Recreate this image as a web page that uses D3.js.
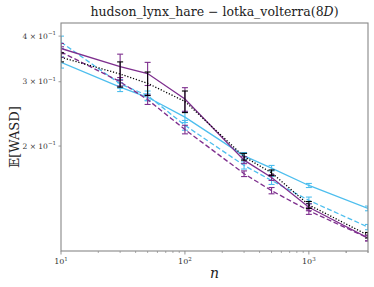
<!DOCTYPE html>
<html><head><meta charset="utf-8">
<script src="https://cdn.jsdelivr.net/npm/d3@7"></script>
<style>body{margin:0;background:#fff}svg{display:block}text{font-family:"DejaVu Serif","Liberation Serif",serif}</style>
</head><body><svg id="c" width="374" height="287"></svg>
<script>
const nValues = [10, 30, 50, 100, 300, 500, 1000, 3000];
const seriesNames = ["purple_solid", "purple_dashed", "blue_solid", "blue_dashed", "black_dotted"];
const purpleSolid = [0.370, 0.330, 0.316, 0.269, 0.183, 0.164, 0.136, 0.112];
const purpleSolidErr = [0.012, 0.027, 0.023, 0.020, 0.004, 0.003, 0.003, 0.002];
const purpleDashed = [0.362, 0.300, 0.268, 0.222, 0.168, 0.151, 0.133, 0.112];
const purpleDashedErr = [0.012, 0.008, 0.008, 0.006, 0.003, 0.003, 0.003, 0.002];
const blueSolid = [0.339, 0.290, 0.272, 0.240, 0.188, 0.174, 0.156, 0.135];
const blueSolidErr = [0.012, 0.008, 0.006, 0.008, 0.004, 0.003, 0.002, 0.002];
const blueDashed = [0.385, 0.296, 0.275, 0.228, 0.177, 0.161, 0.142, 0.120];
const blueDashedErr = [0.015, 0.008, 0.008, 0.007, 0.004, 0.004, 0.003, 0.002];
const blackDotted = [0.350, 0.315, 0.297, 0.265, 0.187, 0.169, 0.138, 0.114];
const blackDottedErr = [0.010, 0.025, 0.022, 0.018, 0.004, 0.003, 0.003, 0.002];
const yTickValues = [0.2, 0.3, 0.4];
const yTickMantissa = ["2", "3", "4"];
const xTickValues = [10, 100, 1000];
const xTickExp = ["1", "2", "3"];

const series = [
  {v: blueSolid, e: blueSolidErr, color: "#4DBEEE", dash: null},
  {v: blueDashed, e: blueDashedErr, color: "#4DBEEE", dash: "5,2.5"},
  {v: purpleDashed, e: purpleDashedErr, color: "#7E2F8E", dash: "5,2.5"},
  {v: purpleSolid, e: purpleSolidErr, color: "#7E2F8E", dash: null},
  {v: blackDotted, e: blackDottedErr, color: "#000000", dash: "1.2,1.8"}
];

const L = 61, R = 368, T = 23, B = 251;
const svg = d3.select("#c");
const x = d3.scaleLog().domain([10, 3000]).range([L, R]);
const y = d3.scaleLog().domain([0.1032, 0.4345]).range([B, T]);

svg.append("defs").append("clipPath").attr("id", "clip")
  .append("rect").attr("x", L).attr("y", T).attr("width", R - L).attr("height", B - T);

const g = svg.append("g").attr("clip-path", "url(#clip)");
const line = d3.line().x((d, i) => x(nValues[i])).y(d => y(d));
series.forEach(s => {
  g.append("path").datum(s.v).attr("d", line).attr("fill", "none")
    .attr("stroke", s.color).attr("stroke-width", 1.3)
    .attr("stroke-dasharray", s.dash);
  const eb = g.append("g").attr("stroke", s.color).attr("stroke-width", 1.1);
  s.v.forEach((v, i) => {
    const cx = x(nValues[i]), y1 = y(v + s.e[i]), y0 = y(v - s.e[i]);
    eb.append("line").attr("x1", cx).attr("x2", cx).attr("y1", y1).attr("y2", y0);
    eb.append("line").attr("x1", cx - 3).attr("x2", cx + 3).attr("y1", y1).attr("y2", y1);
    eb.append("line").attr("x1", cx - 3).attr("x2", cx + 3).attr("y1", y0).attr("y2", y0);
  });
});

// frame
svg.append("rect").attr("x", L).attr("y", T).attr("width", R - L).attr("height", B - T)
  .attr("fill", "none").attr("stroke", "#888").attr("stroke-width", 1.1);

// x ticks
const minorX = [];
for (let d = 10; d <= 1000; d *= 10) for (let k = 1; k < 10; k++) { const v = d * k; if (v <= 3000 && v >= 10) minorX.push(v); }
minorX.push(2000, 3000);
const ax = svg.append("g").attr("stroke", "#888");
minorX.forEach(v => {
  const major = xTickValues.includes(v);
  ax.append("line").attr("x1", x(v)).attr("x2", x(v)).attr("y1", B).attr("y2", B + (major ? 3.5 : 2)).attr("stroke-width", major ? 0.9 : 0.7);
});
xTickValues.forEach((v, i) => {
  const t = svg.append("text").attr("x", x(v)).attr("y", B + 13).attr("text-anchor", "middle")
    .attr("font-size", 8).attr("fill", "#333");
  t.append("tspan").text("10");
  t.append("tspan").attr("dy", -3.5).attr("font-size", 5.5).text(xTickExp[i]);
});
// y ticks
yTickValues.forEach((v, i) => {
  svg.append("line").attr("x1", L - 2.5).attr("x2", L).attr("y1", y(v)).attr("y2", y(v)).attr("stroke", "#888").attr("stroke-width", 0.8);
  const t = svg.append("text").attr("x", L - 5).attr("y", y(v) + 2.5).attr("text-anchor", "end")
    .attr("font-size", 7.5).attr("fill", "#333");
  t.append("tspan").text(yTickMantissa[i] + " × 10");
  t.append("tspan").attr("dy", -3.5).attr("font-size", 5.5).text("−1");
});

svg.append("text").attr("x", (L + R) / 2).attr("y", 16).attr("text-anchor", "middle")
  .attr("font-size", 12.5).attr("fill", "#222")
  .html('hudson_lynx_hare − lotka_volterra(8<tspan font-style="italic">D</tspan>)');
svg.append("text").attr("x", (L + R) / 2).attr("y", 278).attr("text-anchor", "middle")
  .attr("font-size", 14).attr("font-style", "italic").attr("fill", "#222").text("n");
svg.append("text").attr("transform", "translate(19,137) rotate(-90)").attr("text-anchor", "middle")
  .attr("font-size", 13).attr("fill", "#222").text("𝔼[WASD]");
</script></body></html>
